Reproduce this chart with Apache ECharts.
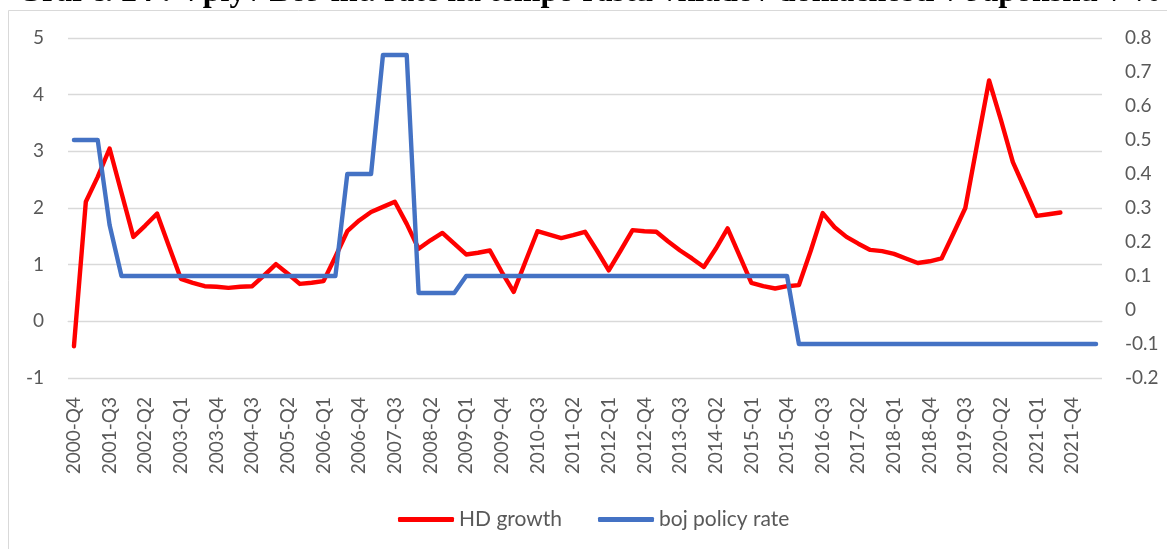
<!DOCTYPE html>
<html>
<head>
<meta charset="utf-8">
<script src="https://cdn.jsdelivr.net/npm/echarts@6/dist/echarts.min.js"></script>
<style>
  html, body { margin: 0; padding: 0; background: #ffffff; }
  #chart { width: 1167px; height: 549px; }
</style>
</head>
<body>
<div id="chart"></div>
<script>
// Quarterly categories, 2000-Q4 .. 2022-Q2
const quarters = [
  '2000-Q4',
  '2001-Q1','2001-Q2','2001-Q3','2001-Q4',
  '2002-Q1','2002-Q2','2002-Q3','2002-Q4',
  '2003-Q1','2003-Q2','2003-Q3','2003-Q4',
  '2004-Q1','2004-Q2','2004-Q3','2004-Q4',
  '2005-Q1','2005-Q2','2005-Q3','2005-Q4',
  '2006-Q1','2006-Q2','2006-Q3','2006-Q4',
  '2007-Q1','2007-Q2','2007-Q3','2007-Q4',
  '2008-Q1','2008-Q2','2008-Q3','2008-Q4',
  '2009-Q1','2009-Q2','2009-Q3','2009-Q4',
  '2010-Q1','2010-Q2','2010-Q3','2010-Q4',
  '2011-Q1','2011-Q2','2011-Q3','2011-Q4',
  '2012-Q1','2012-Q2','2012-Q3','2012-Q4',
  '2013-Q1','2013-Q2','2013-Q3','2013-Q4',
  '2014-Q1','2014-Q2','2014-Q3','2014-Q4',
  '2015-Q1','2015-Q2','2015-Q3','2015-Q4',
  '2016-Q1','2016-Q2','2016-Q3','2016-Q4',
  '2017-Q1','2017-Q2','2017-Q3','2017-Q4',
  '2018-Q1','2018-Q2','2018-Q3','2018-Q4',
  '2019-Q1','2019-Q2','2019-Q3','2019-Q4',
  '2020-Q1','2020-Q2','2020-Q3','2020-Q4',
  '2021-Q1','2021-Q2','2021-Q3','2021-Q4',
  '2022-Q1','2022-Q2'
];

// Household deposit growth, % (left axis)
const hdGrowth = [
  -0.44,
  2.11, 2.55, 3.05, 2.27,
  1.49, 1.69, 1.90, 1.32,
  0.75, 0.68, 0.62, 0.61,
  0.59, 0.61, 0.62, 0.81,
  1.01, 0.84, 0.66, 0.68,
  0.71, 1.14, 1.59, 1.78,
  1.93, 2.02, 2.11, 1.72,
  1.28, 1.43, 1.56, 1.37,
  1.18, 1.21, 1.25, 0.87,
  0.52, 1.06, 1.59, 1.53,
  1.47, 1.52, 1.58, 1.25,
  0.90, 1.25, 1.61, 1.59,
  1.58, 1.41, 1.25, 1.11,
  0.96, 1.28, 1.64, 1.16,
  0.68, 0.62, 0.58, 0.62,
  0.64, 1.25, 1.91, 1.66,
  1.49, 1.37, 1.26, 1.24,
  1.19, 1.11, 1.03, 1.06,
  1.11, 1.55, 2.00, 3.13,
  4.25, 3.55, 2.81, 2.34,
  1.86, 1.89, 1.92, null,
  null, null
];

// BoJ policy rate, % (right axis)
const bojRate = [
  0.5,
  0.5, 0.5, 0.25, 0.1,
  0.1, 0.1, 0.1, 0.1,
  0.1, 0.1, 0.1, 0.1,
  0.1, 0.1, 0.1, 0.1,
  0.1, 0.1, 0.1, 0.1,
  0.1, 0.1, 0.4, 0.4,
  0.4, 0.75, 0.75, 0.75,
  0.05, 0.05, 0.05, 0.05,
  0.1, 0.1, 0.1, 0.1,
  0.1, 0.1, 0.1, 0.1,
  0.1, 0.1, 0.1, 0.1,
  0.1, 0.1, 0.1, 0.1,
  0.1, 0.1, 0.1, 0.1,
  0.1, 0.1, 0.1, 0.1,
  0.1, 0.1, 0.1, 0.1,
  -0.1, -0.1, -0.1, -0.1,
  -0.1, -0.1, -0.1, -0.1,
  -0.1, -0.1, -0.1, -0.1,
  -0.1, -0.1, -0.1, -0.1,
  -0.1, -0.1, -0.1, -0.1,
  -0.1, -0.1, -0.1, -0.1,
  -0.1, -0.1
];

const seriesNames = ['HD growth', 'boj policy rate'];
const titleText = 'Graf č. 24 : Vplyv BoJ int. rate na tempo rastu vkladov domácnosti v Japonsku v %';

const textColor = '#595959';
const gridColor = '#d9d9d9';
const labelFont = 'Lato, "Open Sans", sans-serif';

const chart = echarts.init(document.getElementById('chart'));
chart.setOption({
  animation: false,
  backgroundColor: '#ffffff',
  graphic: [
    {
      // outer frame of the chart area, running off the page at right and bottom
      type: 'rect',
      shape: { x: 8.5, y: 10.5, width: 1200, height: 600 },
      style: { fill: 'none', stroke: gridColor, lineWidth: 1 },
      silent: true,
      z: -1
    },
    {
      // heading, mostly above the top edge of the page
      type: 'text',
      x: 17,
      y: -7,
      style: {
        text: titleText,
        font: 'bold 32px "Liberation Serif", "DejaVu Serif", serif',
        fill: '#000000',
        align: 'left',
        verticalAlign: 'middle'
      },
      silent: true
    }
  ],
  legend: {
    data: seriesNames,
    left: 393,
    top: 504,
    itemWidth: 56,
    itemHeight: 5,
    itemGap: 36,
    icon: 'roundRect',
    textStyle: { color: textColor, fontSize: 21, fontFamily: labelFont }
  },
  grid: {
    left: 68,
    right: 65,
    top: 38,
    bottom: 171,
    containLabel: false
  },
  xAxis: {
    type: 'category',
    data: quarters,
    boundaryGap: true,
    axisLine: { show: true, lineStyle: { color: gridColor, width: 1 } },
    axisTick: { show: false },
    axisLabel: {
      interval: 2,
      rotate: 90,
      margin: 19,
      color: textColor,
      fontSize: 19,
      fontFamily: labelFont
    },
    splitLine: { show: false }
  },
  yAxis: [
    {
      type: 'value',
      min: -1,
      max: 5,
      interval: 1,
      axisLine: { show: false },
      axisTick: { show: false },
      axisLabel: { color: textColor, fontSize: 19, fontFamily: labelFont, margin: 24 },
      splitLine: { show: true, lineStyle: { color: gridColor, width: 1.3 } }
    },
    {
      type: 'value',
      min: -0.2,
      max: 0.8,
      interval: 0.1,
      axisLine: { show: false },
      axisTick: { show: false },
      axisLabel: {
        color: textColor, fontSize: 19, fontFamily: labelFont, margin: 23,
        formatter: v => String(Math.round(v * 10) / 10)
      },
      splitLine: { show: false }
    }
  ],
  series: [
    {
      name: seriesNames[0],
      type: 'line',
      yAxisIndex: 0,
      data: hdGrowth,
      showSymbol: false,
      symbol: 'none',
      connectNulls: false,
      color: '#ff0000',
      lineStyle: { color: '#ff0000', width: 4.4, cap: 'round', join: 'round' },
      z: 3
    },
    {
      name: seriesNames[1],
      type: 'line',
      yAxisIndex: 1,
      data: bojRate,
      showSymbol: false,
      symbol: 'none',
      color: '#4472c4',
      lineStyle: { color: '#4472c4', width: 4.4, cap: 'round', join: 'round' },
      z: 4
    }
  ]
});
</script>
</body>
</html>
